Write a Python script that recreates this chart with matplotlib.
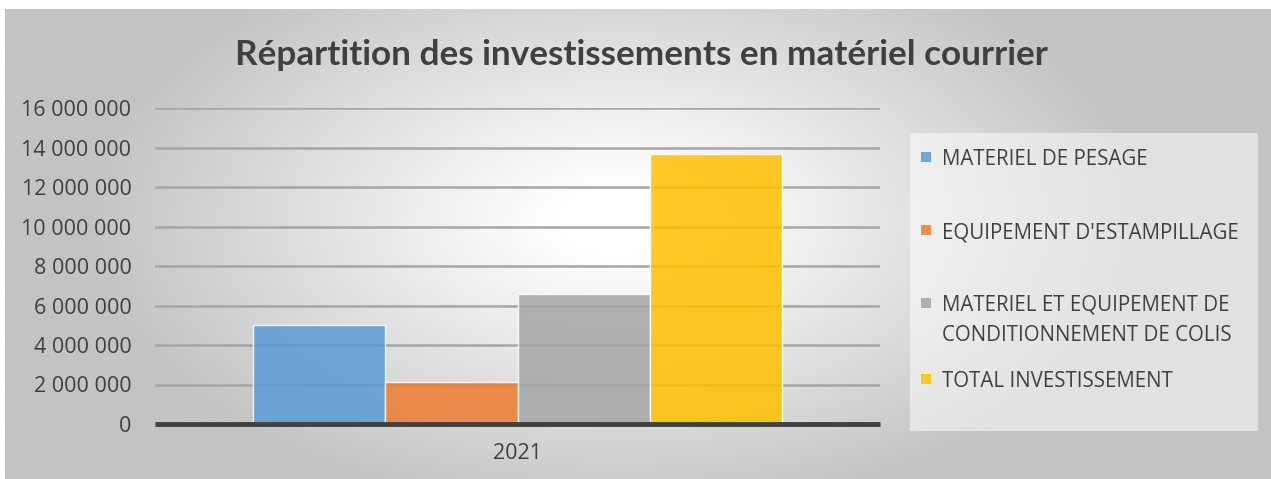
import matplotlib
matplotlib.use("Agg")
import matplotlib.pyplot as plt
import numpy as np
from matplotlib.patches import Rectangle
from matplotlib.ticker import FuncFormatter

# Données
annee = "2021"
series = ["MATERIEL DE PESAGE",
          "EQUIPEMENT D'ESTAMPILLAGE",
          "MATERIEL ET EQUIPEMENT DE\nCONDITIONNEMENT DE COLIS",
          "TOTAL INVESTISSEMENT"]
valeurs = [5000000, 2110000, 6570000, 13680000]
couleurs = ["#5B9BD5", "#ED7D31", "#A5A5A5", "#FFC000"]
y_ticks = list(range(0, 16000001, 2000000))

W, H = 1271, 479
fig = plt.figure(figsize=(W / 100, H / 100), dpi=100)
fig.patch.set_facecolor("white")

# fond dégradé radial (blanc au centre, gris sur les bords)
bg = fig.add_axes([5 / W, 0, 1 - 5 / W, 1 - 9 / H], zorder=-10)
xx, yy = np.meshgrid(np.linspace(-1, 1, 400), np.linspace(-1, 1, 200))
r = np.sqrt(((xx + 0.03) / 1.0) ** 2 + ((yy + 0.1) / 1.5) ** 2)
val = 255 - 60 * np.clip((r - 0.1) / 0.75, 0, 1)
img = np.dstack([val, val, val]) / 255.0
bg.imshow(img, aspect="auto", extent=[0, 1, 0, 1], interpolation="bilinear")
bg.axis("off")

ax = fig.add_axes([155 / W, 1 - 424 / H, 725 / W, 316 / H])
ax.set_facecolor("none")

x = np.arange(len(series)) - (len(series) - 1) / 2
bars = ax.bar(x, valeurs, width=1.0, color=couleurs, alpha=0.85,
              edgecolor=(1, 1, 1, 0.6), linewidth=1.0, zorder=3)

ax.set_xlim(-2.74, 2.74)
ax.set_ylim(0, 16000000)
ax.set_yticks(y_ticks)
ax.yaxis.set_major_formatter(FuncFormatter(lambda v, p: f"{int(v):,}".replace(",", " ")))
ax.set_xticks([0])
ax.set_xticklabels([annee])
ax.grid(axis="y", color="#A6A6A6", linewidth=1.8, zorder=1)
ax.set_axisbelow(True)
for s in ["top", "right", "left"]:
    ax.spines[s].set_visible(False)
ax.spines["bottom"].set_color("#404040")
ax.spines["bottom"].set_linewidth(3.5)
ax.spines["bottom"].set_capstyle("butt")
ax.spines["bottom"].set_zorder(4)
ax.tick_params(axis="both", length=0, labelsize=15.5, labelcolor="#404040")
ax.tick_params(axis="y", pad=17)
ax.tick_params(axis="x", pad=14)
for lab in ax.get_xticklabels() + ax.get_yticklabels():
    lab.set_fontfamily("Open Sans")

fig.text(641 / W, 1 - 55 / H, "Répartition des investissements en matériel courrier",
         ha="center", va="center", fontsize=25.3, fontweight="bold",
         color="#404040", family="Lato")

# légende
fig.add_artist(Rectangle((910 / W, 1 - 431 / H), 348 / W, 298 / H,
                         transform=fig.transFigure, facecolor="white",
                         alpha=0.5, edgecolor="none"))
y_top = 157
for nom, c in zip(series, couleurs):
    fig.add_artist(Rectangle((921 / W, 1 - (y_top + 5) / H), 10 / W, 10 / H,
                             transform=fig.transFigure, facecolor=c, alpha=0.85,
                             edgecolor="none"))
    fig.text(942 / W, 1 - (y_top - 8) / H, nom, ha="left", va="top",
             fontsize=14.8, color="#404040", family="Open Sans", linespacing=1.55)
    y_top += 73 if "\n" not in nom else 76

fig.savefig("out.png", dpi=100)
